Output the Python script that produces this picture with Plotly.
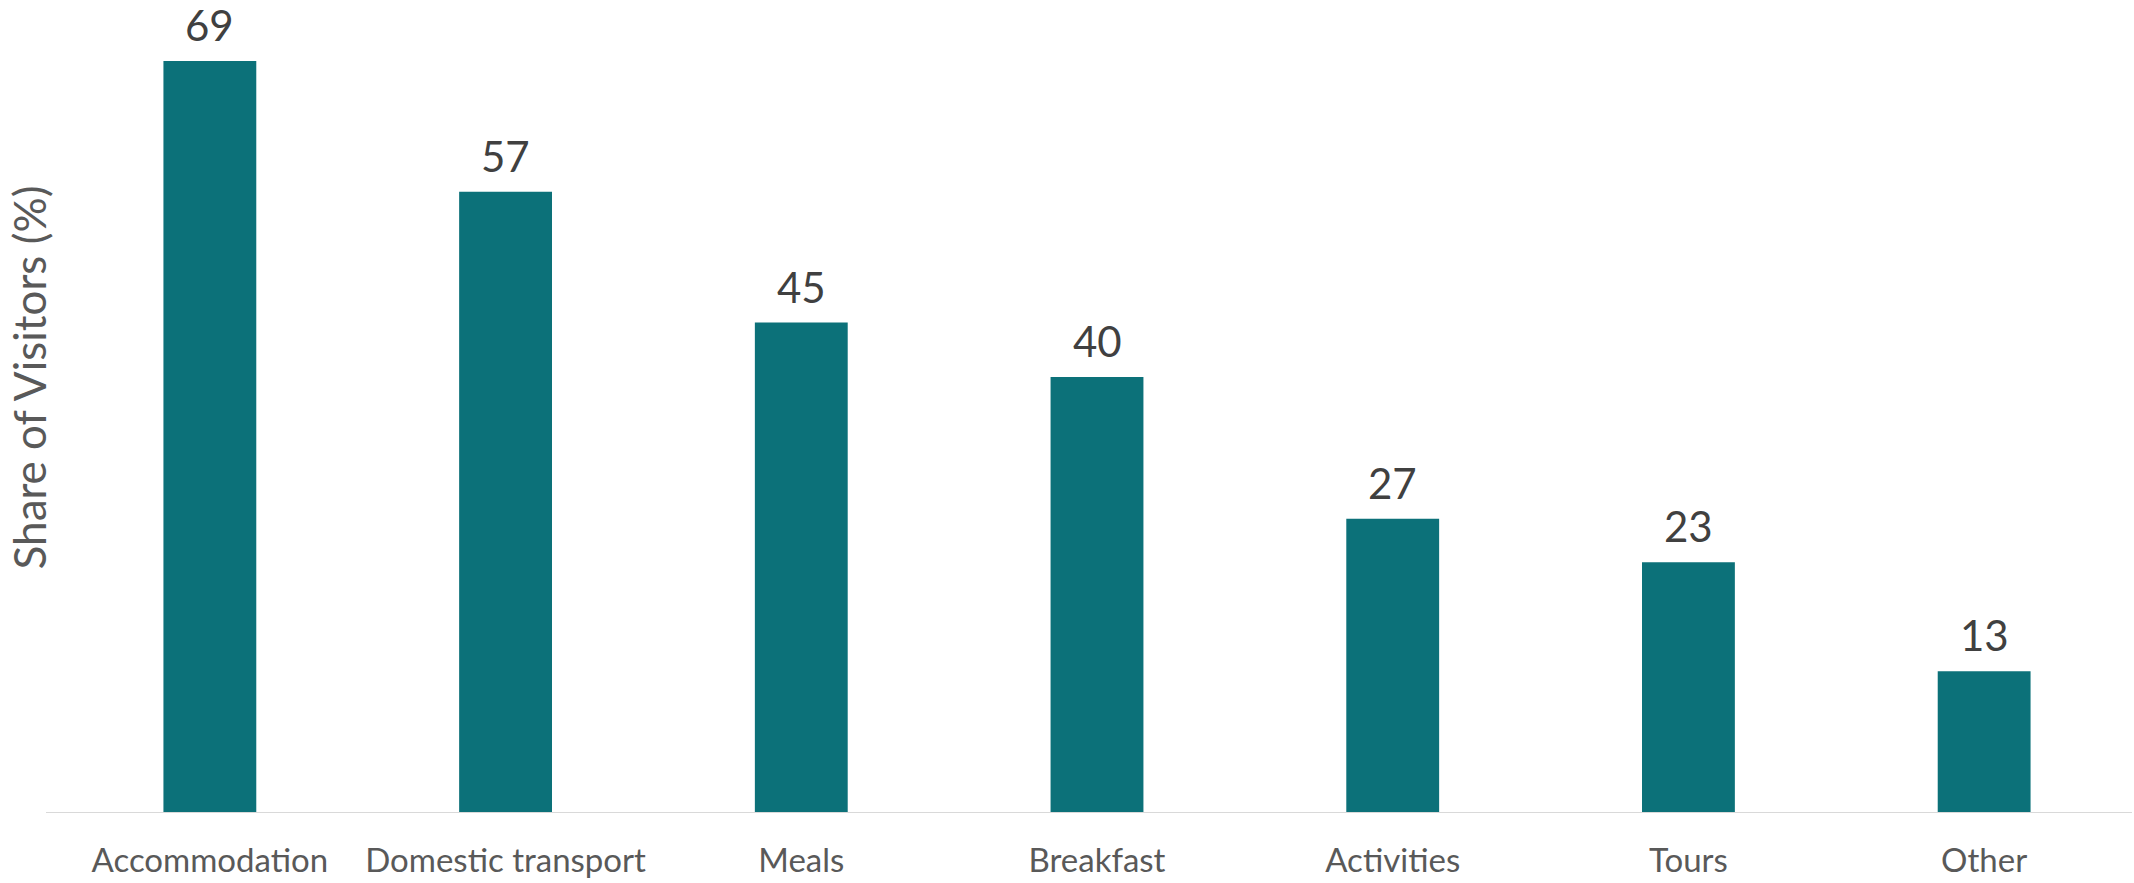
import plotly.graph_objects as go

categories = ["Accommodation", "Domestic transport", "Meals", "Breakfast",
              "Activities", "Tours", "Other"]
share_pct = [69, 57, 45, 40, 27, 23, 13]

BAR_COLOR = "#0C7179"
FONT = "Lato"

fig = go.Figure(
    go.Bar(
        x=categories,
        y=share_pct,
        marker=dict(color=BAR_COLOR, line=dict(width=0)),
        hoverinfo="skip",
    )
)

# value labels above each bar
annotations = [
    dict(x=c, y=v, xref="x", yref="y", text=str(v), showarrow=False,
         yanchor="bottom", yshift=10, borderpad=0,
         font=dict(family=FONT, size=42, color="#404040"))
    for c, v in zip(categories, share_pct)
]
annotations.append(
    dict(text="Share of Visitors (%)", xref="paper", yref="paper",
         x=-0.0159, y=0.571, xanchor="center", yanchor="middle",
         textangle=-90, showarrow=False,
         font=dict(family=FONT, size=44, color="#595959"))
)

fig.update_layout(
    width=2134,
    height=883,
    margin=dict(l=62, r=2, t=50, b=70),
    paper_bgcolor="white",
    plot_bgcolor="white",
    bargap=0.686,
    showlegend=False,
    font=dict(family=FONT, color="#595959"),
    xaxis=dict(
        showline=False,
        showgrid=False,
        ticks="",
        tickfont=dict(family=FONT, size=33, color="#595959"),
        ticklabelstandoff=25,
    ),
    yaxis=dict(
        range=[0, 70],
        showgrid=False,
        showline=False,
        zeroline=False,
        showticklabels=False,
    ),
    annotations=annotations,
    shapes=[
        dict(type="line", xref="paper", yref="y",
             x0=-16 / 2070, x1=1.0, y0=0, y1=0,
             line=dict(color="#D9D9D9", width=2)),
    ],
)

fig.write_html("out.html")
